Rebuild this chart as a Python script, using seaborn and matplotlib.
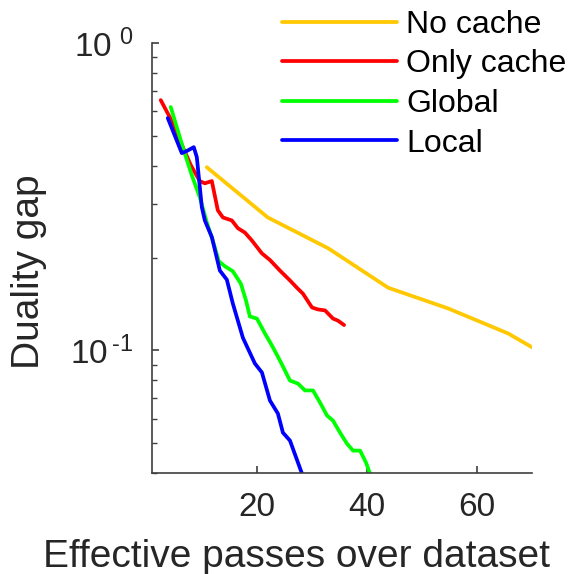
import pandas as pd
import numpy as np
import matplotlib
matplotlib.use('Agg')
import matplotlib.pyplot as plt
import seaborn as sns
from matplotlib.ticker import LogLocator, FixedLocator, NullFormatter

# data
no_cache_x = [10.9, 22.0, 33.0, 43.9, 54.8, 65.7, 70.1]
no_cache_y = [0.395, 0.271, 0.215, 0.160, 0.137, 0.1136, 0.1023]

only_cache_x = [2.53, 4.17, 5.99, 8.00, 9.63, 10.55, 11.82, 12.91, 13.83, 15.46, 16.56,
                17.83, 19.11, 20.93, 22.39, 24.21, 26.03, 27.30, 28.40, 30.04, 31.13,
                32.41, 33.86, 34.77, 35.87]
only_cache_y = [0.653, 0.575, 0.484, 0.401, 0.356, 0.350, 0.356, 0.286, 0.271, 0.265, 0.250,
                0.242, 0.228, 0.207, 0.197, 0.182, 0.169, 0.160, 0.153, 0.138, 0.136,
                0.135, 0.127, 0.125, 0.121]

global_x = [4.35, 6.54, 8.18, 9.64, 10.91, 12.00, 13.10, 14.19, 15.65, 17.10, 18.01,
            18.74, 20.02, 21.48, 22.75, 24.39, 26.03, 27.49, 28.76, 30.22, 31.49, 32.77,
            33.86, 35.14, 36.41, 37.50, 38.78, 39.87, 40.60]
global_y = [0.620, 0.459, 0.372, 0.315, 0.261, 0.228, 0.195, 0.188, 0.181, 0.165, 0.146,
            0.129, 0.127, 0.1136, 0.1038, 0.0914, 0.0798, 0.0780, 0.0741, 0.0741, 0.0677,
            0.0614, 0.0591, 0.0540, 0.0497, 0.0472, 0.0472, 0.0431, 0.0397]

local_x = [3.81, 6.36, 7.27, 8.54, 9.09, 10.00, 10.55, 11.82, 13.28, 14.55, 15.65, 17.47,
           19.65, 20.93, 22.39, 23.84, 24.75, 26.03, 28.22]
local_y = [0.571, 0.439, 0.446, 0.459, 0.426, 0.293, 0.265, 0.234, 0.182, 0.170, 0.142,
           0.110, 0.0907, 0.0848, 0.0687, 0.0623, 0.0540, 0.0509, 0.0397]

labels = ['No cache', 'Only cache', 'Global', 'Local']
colors = ['#FFC800', '#FF0000', '#00FF00', '#0000FF']

frames = []
for name, xs, ys in zip(labels,
                        [no_cache_x, only_cache_x, global_x, local_x],
                        [no_cache_y, only_cache_y, global_y, local_y]):
    frames.append(pd.DataFrame({'passes': xs, 'gap': ys, 'method': name}))
df = pd.concat(frames, ignore_index=True)

sns.set_style('white')
plt.rcParams['font.family'] = ['Liberation Sans', 'DejaVu Sans']
plt.rcParams['mathtext.fontset'] = 'custom'
plt.rcParams['mathtext.rm'] = 'Liberation Sans'
plt.rcParams['mathtext.default'] = 'regular'

text_col = '#262626'
fig = plt.figure(figsize=(5.69, 5.74), dpi=100)
ax = fig.add_axes([0.2677, 0.1765, 0.6668, 0.7481])

sns.lineplot(data=df, x='passes', y='gap', hue='method', hue_order=labels,
             palette=dict(zip(labels, colors)), estimator=None, sort=False,
             linewidth=2.7, ax=ax, legend=False)

ax.set_yscale('log')
ax.set_xlim(1, 70)
ax.set_ylim(0.04, 1)

ax.xaxis.set_major_locator(FixedLocator([20, 40, 60]))
ax.yaxis.set_major_locator(FixedLocator([0.1, 1]))
ax.set_yticklabels([r'$10^{\,\text{-1}}$', r'$10^{\ 0}$'])
ax.yaxis.set_minor_locator(LogLocator(base=10, subs=np.arange(2, 10) * 1.0))
ax.yaxis.set_minor_formatter(NullFormatter())

for side in ['top', 'right']:
    ax.spines[side].set_visible(False)
for side in ['left', 'bottom']:
    ax.spines[side].set_color('#404040')
    ax.spines[side].set_linewidth(1.2)

ax.tick_params(axis='both', which='both', bottom=True, left=True, top=False, right=False)
ax.tick_params(axis='both', which='major', direction='in', length=5, width=1.2,
               color='#404040', labelsize=24, labelcolor=text_col, pad=14)
ax.tick_params(axis='y', which='minor', direction='in', length=3.5, width=1.0,
               color='#404040')
ax.tick_params(axis='x', which='minor', bottom=False)

ax.set_xlabel('Effective passes over dataset', fontsize=28, color=text_col)
ax.set_ylabel('Duality gap', fontsize=28, color=text_col)
ax.xaxis.set_label_coords(0.379, -0.155)
ax.yaxis.set_label_coords(-0.278, 0.468)

handles = [plt.Line2D([], [], color=c, linewidth=2.7) for c in colors]
fig.legend(handles, labels, loc='upper left', bbox_to_anchor=(0.473, 1.005),
           frameon=False, fontsize=23, handlelength=3.6, handletextpad=0.3,
           labelspacing=0.3, labelcolor='black', borderaxespad=0)

fig.savefig('out.png', dpi=100)
